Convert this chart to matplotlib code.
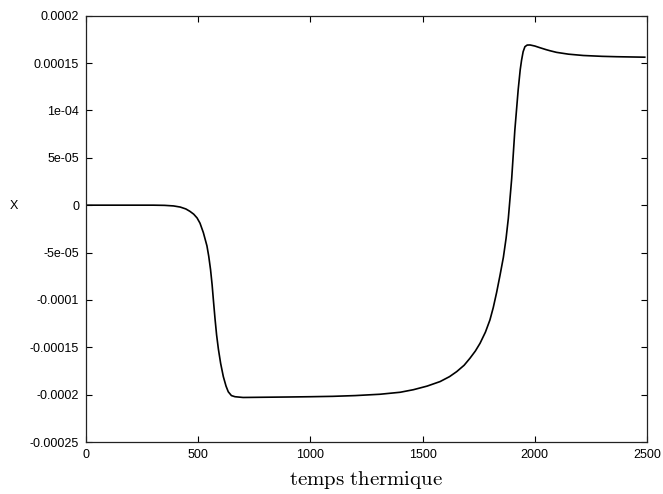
import matplotlib
matplotlib.use("Agg")
import matplotlib.pyplot as plt

# Thermal-time trace of X
temps = [0, 100, 200, 300, 350, 390, 420, 445, 463, 480, 495, 508, 523, 539,
         547, 555, 562, 568, 575, 582, 590, 600, 612, 624, 634, 648, 664, 700,
         775, 900, 1000, 1100, 1200, 1310, 1400, 1459, 1520, 1578, 1620, 1652,
         1685, 1711, 1735, 1756, 1780, 1800, 1815, 1830, 1845, 1860, 1872, 1882,
         1897, 1911, 1926, 1935, 1941, 1948, 1956, 1966, 1979, 2000, 2023, 2050,
         2068, 2097, 2150, 2216, 2300, 2365, 2490]
x_e4 = [0, 0, 0, 0, -0.002, -0.008, -0.02, -0.04, -0.065, -0.095, -0.135,
        -0.19, -0.29, -0.43, -0.54, -0.68, -0.84, -1.01, -1.20, -1.37, -1.52,
        -1.67, -1.81, -1.91, -1.97, -2.01, -2.022, -2.03, -2.028, -2.025,
        -2.022, -2.018, -2.01, -1.996, -1.975, -1.948, -1.91, -1.862, -1.81,
        -1.757, -1.69, -1.616, -1.54, -1.458, -1.34, -1.212, -1.08, -0.92,
        -0.74, -0.55, -0.35, -0.14, 0.28, 0.79, 1.22, 1.43, 1.53, 1.62, 1.673,
        1.69, 1.691, 1.68, 1.662, 1.642, 1.630, 1.613, 1.594, 1.580, 1.571,
        1.567, 1.562]
x_vals = [v * 1e-4 for v in x_e4]

xticks = [0, 500, 1000, 1500, 2000, 2500]
yticks = [0.0002, 0.00015, 1e-4, 5e-5, 0, -5e-5, -0.0001, -0.00015, -0.0002, -0.00025]
ytick_labels = ["0.0002", "0.00015", "1e-04", "5e-05", "0", "-5e-05",
                "-0.0001", "-0.00015", "-0.0002", "-0.00025"]

plt.rcParams["mathtext.fontset"] = "cm"
tick_font = "Liberation Sans"

fig = plt.figure(figsize=(6.63, 4.94), dpi=100)
ax = fig.add_axes([86 / 663, 52 / 494, 561 / 663, 426.3 / 494])

ax.plot(temps, x_vals, color="black", lw=1.2, solid_joinstyle="round")

ax.set_xlim(0, 2500)
ax.set_ylim(-0.00025, 0.0002)
ax.set_xticks(xticks)
ax.set_xticklabels([str(t) for t in xticks], family=tick_font, fontsize=9)
ax.set_yticks(yticks)
ax.set_yticklabels(ytick_labels, family=tick_font, fontsize=9)
ax.tick_params(direction="in", length=4, width=0.8, top=True, right=True,
               pad=5, colors="black")
for s in ax.spines.values():
    s.set_linewidth(0.9)
    s.set_color("#222222")

fig.text(14 / 663, 1 - 206 / 494, "X", family=tick_font, fontsize=9,
         ha="center", va="center")
fig.text(366.5 / 663, 1 - 480 / 494, r"$\mathrm{temps\ thermique}$",
         fontsize=15, ha="center", va="center")

fig.savefig("out.png", dpi=100)
